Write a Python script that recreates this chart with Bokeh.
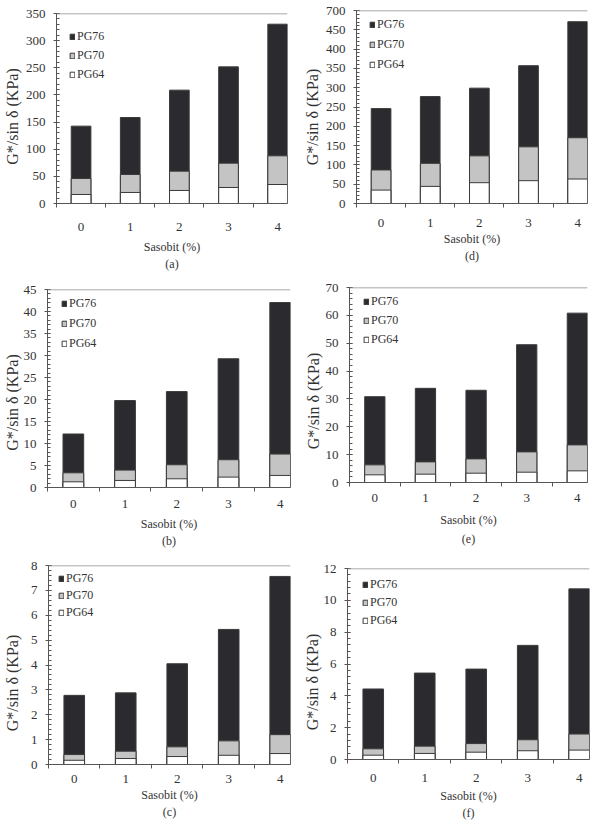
from bokeh.plotting import figure
from bokeh.layouts import column, row
from bokeh.models import (ColumnDataSource, FixedTicker, SingleIntervalTicker,
                          Range1d, Title, Span)
from bokeh.embed import file_html
from bokeh.resources import INLINE

# ---------------- data ----------------
sasobit = [0, 1, 2, 3, 4]
boundaries = [-0.5, 0.5, 1.5, 2.5, 3.5]

a_pg76 = [142.5, 158.4, 208.8, 251.7, 330.3]
a_pg70 = [46.0, 53.4, 59.6, 74.3, 87.8]
a_pg64 = [16.6, 20.3, 24.0, 29.5, 35.0]

d_pg76 = [245.8, 277.0, 298.8, 357.0, 470.9]
d_pg70 = [86.9, 104.0, 123.4, 146.8, 170.3]
d_pg64 = [34.7, 44.3, 53.9, 59.1, 63.4]

b_pg76 = [12.16, 19.76, 21.8, 29.26, 42.03]
b_pg70 = [3.34, 3.95, 5.17, 6.31, 7.6]
b_pg64 = [1.29, 1.6, 1.98, 2.36, 2.74]

e_pg76 = [30.8, 33.8, 33.1, 49.46, 60.8]
e_pg70 = [6.33, 7.4, 8.48, 10.99, 13.5]
e_pg64 = [2.75, 2.99, 3.34, 3.7, 4.18]

c_pg76 = [2.78, 2.88, 4.05, 5.43, 7.56]
c_pg70 = [0.40, 0.535, 0.71, 0.95, 1.2]
c_pg64 = [0.17, 0.24, 0.32, 0.37, 0.44]

f_pg76 = [4.43, 5.43, 5.68, 7.17, 10.72]
f_pg70 = [0.67, 0.84, 1.0, 1.24, 1.6]
f_pg64 = [0.27, 0.38, 0.46, 0.55, 0.59]

FONT = "Liberation Serif"
TXT = "#333333"
AX = "#555555"
YLABEL = "G*/sin δ (KPa)"
NBSP = "\u00a0"


def panel(tag, pg76, pg70, pg64, ymax, ystep, w, h, bl, br, bt, bb,
          lab_standoff, xlab_standoff, ylab_standoff, title_standoff,
          leg_loc, leg_spacing, ylab_pad, overrides=None):
    p = figure(width=w, height=h, x_range=Range1d(-0.5, 4.2), y_range=Range1d(0, ymax),
               output_backend="svg", toolbar_location=None,
               min_border_left=bl, min_border_right=br, min_border_top=bt, min_border_bottom=bb)
    p.outline_line_color = None
    p.grid.visible = False
    src = ColumnDataSource(dict(x=sasobit, pg76=pg76, pg70=pg70, pg64=pg64))
    p.vbar(x="x", top="pg76", width=0.4, source=src, fill_color="#2b2b2f",
           line_color="#3a3a3a", line_width=1, legend_label="PG76")
    p.vbar(x="x", top="pg70", width=0.4, source=src, fill_color="#c4c4c4",
           line_color="#3a3a3a", line_width=1, legend_label="PG70")
    p.vbar(x="x", top="pg64", width=0.4, source=src, fill_color="white",
           line_color="#3a3a3a", line_width=1, legend_label="PG64")

    # top border line of the plot frame
    p.add_layout(Span(location=ymax, dimension="width", line_color="#8a8a8a", line_width=1.5))

    xa = p.xaxis[0]
    xa.ticker = FixedTicker(ticks=sasobit, minor_ticks=boundaries)
    xa.major_tick_in = 0
    xa.major_tick_out = 0
    xa.minor_tick_in = 0
    xa.minor_tick_out = 4
    xa.minor_tick_line_color = AX
    xa.axis_line_color = AX
    xa.major_label_standoff = lab_standoff
    xa.major_label_text_font = FONT
    xa.major_label_text_font_size = "13px"
    xa.major_label_text_color = TXT
    xa.axis_label = "Sasobit (%)"
    xa.axis_label_text_font = FONT
    xa.axis_label_text_font_size = "12px"
    xa.axis_label_text_font_style = "normal"
    xa.axis_label_text_color = TXT
    xa.axis_label_standoff = xlab_standoff

    ya = p.yaxis[0]
    ya.ticker = SingleIntervalTicker(interval=ystep, num_minor_ticks=5)
    ya.major_tick_in = 3
    ya.major_tick_out = 3
    ya.minor_tick_in = 3
    ya.minor_tick_out = 0
    ya.major_tick_line_color = AX
    ya.minor_tick_line_color = AX
    ya.axis_line_color = AX
    ya.major_label_standoff = 8
    ya.major_label_text_font = FONT
    ya.major_label_text_font_size = "13px"
    ya.major_label_text_color = TXT
    if overrides:
        ya.major_label_overrides = overrides
    # trailing no-break spaces shift the centred label down, as in the original
    ya.axis_label = YLABEL + NBSP * ylab_pad
    ya.axis_label_text_font = FONT
    ya.axis_label_text_font_size = "16px"
    ya.axis_label_text_font_style = "normal"
    ya.axis_label_text_color = TXT
    ya.axis_label_standoff = ylab_standoff

    p.add_layout(Title(text=tag, align="center", vertical_align="top", text_font=FONT,
                       text_font_size="12px", text_font_style="normal", text_color=TXT,
                       standoff=title_standoff), "below")

    lg = p.legend[0]
    lg.location = leg_loc
    lg.background_fill_alpha = 0
    lg.border_line_color = None
    lg.margin = 0
    lg.padding = 0
    lg.spacing = leg_spacing
    lg.glyph_width = 6
    lg.glyph_height = 7
    lg.label_height = 14
    lg.label_standoff = 2
    lg.label_text_font = FONT
    lg.label_text_font_size = "12px"
    lg.label_text_color = TXT
    return p


pa = panel("(a)", a_pg76, a_pg70, a_pg64, 350, 50, 300, 272, 54, 13, 13, 69, 15, 6, 2, 0,
           (13, 121), 4, 4)
pd = panel("(d)", d_pg76, d_pg70, d_pg64, 500, 50, 301, 272, 54, 14, 10, 69, 11, 2, 2, 0,
           (13, 131), 5, 5, overrides={500: "700"})
pb = panel("(b)", b_pg76, b_pg70, b_pg64, 45, 5, 300, 281, 43, 10, 17, 66, 8, 6, 0, 1,
           (14, 136), 5, 7)
pe = panel("(e)", e_pg76, e_pg70, e_pg64, 70, 10, 301, 281, 49, 14, 15, 71, 7, 8, 1, 4,
           (14, 135), 4, 8)
pc = panel("(c)", c_pg76, c_pg70, c_pg64, 8, 1, 300, 271, 43, 10, 12, 60, 6, 2, 7, 0,
           (10, 144), 2, 9)
pf = panel("(f)", f_pg76, f_pg70, f_pg64, 12, 2, 301, 271, 43, 12, 15, 65, 10, 4, 0, 1,
           (15, 131), 3, 9)

layout = column(row(column(pa), column(pd)),
                row(column(pb), column(pe)),
                row(column(pc), column(pf)))

open("out.html", "w").write(file_html(layout, INLINE))
